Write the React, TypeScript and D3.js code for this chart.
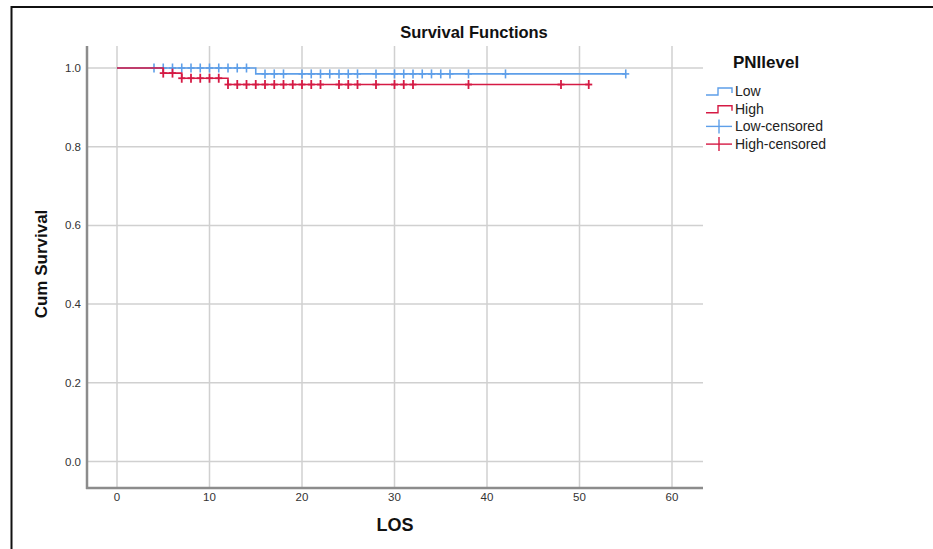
import React from "react";
import * as d3 from "d3";

// step levels (time, survival after the step)
const lowStepTimes = [0, 15];
const lowStepValues = [1.0, 0.985];
const lowEnd = 55;
const highStepTimes = [0, 5, 7, 12];
const highStepValues = [1.0, 0.987, 0.974, 0.958];
const highEnd = 51;

// censored cases (LOS)
const lowCensored = [4, 5, 6, 7, 8, 9, 10, 11, 12, 13, 14, 16, 17, 18, 20, 21, 22, 23, 24, 25, 26, 28, 30, 31, 32, 33, 34, 35, 36, 38, 42, 55];
const highCensored = [5, 6, 7, 8, 9, 10, 11, 12, 13, 14, 15, 16, 17, 18, 19, 20, 21, 22, 24, 25, 26, 28, 30, 31, 32, 38, 48, 51];

const xTicks = [0, 10, 20, 30, 40, 50, 60];
const yTicks = [0, 0.2, 0.4, 0.6, 0.8, 1.0];

const legendLabels = ["Low", "High", "Low-censored", "High-censored"];

export default class App extends React.Component {
    myRef = React.createRef<SVGSVGElement>();

    drawModel = () => {
        const colors = ["#5e9fe9", "#d51a44"];
        const font = "'Liberation Sans', Arial, sans-serif";

        const width = 933;
        const height = 549;
        const plot = { left: 87, right: 703, top: 46, bottom: 488 };

        const svg = d3.select(this.myRef.current);
        svg.selectAll("*").remove();
        svg.attr("width", width).attr("height", height);

        svg.append("rect").attr("width", width).attr("height", height).attr("fill", "#fff");

        // frame (top + left only)
        svg.append("line").attr("x1", 11).attr("x2", width).attr("y1", 7).attr("y2", 7)
            .attr("stroke", "#111").attr("stroke-width", 2);
        svg.append("line").attr("x1", 11.5).attr("x2", 11.5).attr("y1", 6).attr("y2", height)
            .attr("stroke", "#111").attr("stroke-width", 2);

        const x = d3.scaleLinear().domain([0, 60]).range([117, 672]);
        const y = d3.scaleLinear().domain([0, 1]).range([461.5, 68]);

        // grid
        svg.append("g").selectAll("line").data(xTicks).join("line")
            .attr("x1", d => x(d)).attr("x2", d => x(d))
            .attr("y1", plot.top).attr("y2", plot.bottom)
            .attr("stroke", "#d0d0d0").attr("stroke-width", 1.5);
        svg.append("g").selectAll("line").data(yTicks).join("line")
            .attr("x1", plot.left).attr("x2", plot.right)
            .attr("y1", d => y(d)).attr("y2", d => y(d))
            .attr("stroke", "#d0d0d0").attr("stroke-width", 1.5);

        // axes lines
        svg.append("line").attr("x1", plot.left).attr("x2", plot.left)
            .attr("y1", plot.top).attr("y2", plot.bottom + 1)
            .attr("stroke", "#8c8c8c").attr("stroke-width", 2.5);
        svg.append("line").attr("x1", plot.left - 1).attr("x2", plot.right)
            .attr("y1", plot.bottom).attr("y2", plot.bottom)
            .attr("stroke", "#8c8c8c").attr("stroke-width", 2.5);

        // tick labels
        svg.append("g").selectAll("text").data(xTicks).join("text")
            .attr("x", d => x(d)).attr("y", 501)
            .attr("text-anchor", "middle")
            .attr("font-family", font).attr("font-size", 11.5).attr("fill", "#333")
            .text(d => d);
        svg.append("g").selectAll("text").data(yTicks).join("text")
            .attr("x", 81).attr("y", d => y(d) + 4)
            .attr("text-anchor", "end")
            .attr("font-family", font).attr("font-size", 11.5).attr("fill", "#333")
            .text(d => d3.format(".1f")(d));

        // titles
        svg.append("text").attr("x", 474).attr("y", 38).attr("text-anchor", "middle")
            .attr("font-family", font).attr("font-size", 16.5).attr("font-weight", "bold")
            .attr("fill", "#111").text("Survival Functions");
        svg.append("text").attr("x", 395).attr("y", 531).attr("text-anchor", "middle")
            .attr("font-family", font).attr("font-size", 18).attr("font-weight", "bold")
            .attr("fill", "#111").text("LOS");
        svg.append("text").attr("transform", "translate(47,264) rotate(-90)")
            .attr("text-anchor", "middle")
            .attr("font-family", font).attr("font-size", 17).attr("font-weight", "bold")
            .attr("fill", "#111").text("Cum Survival");

        // curves
        const series = [
            { times: lowStepTimes, values: lowStepValues, end: lowEnd, censored: lowCensored },
            { times: highStepTimes, values: highStepValues, end: highEnd, censored: highCensored },
        ];
        const line = d3.line<[number, number]>()
            .x(d => x(d[0])).y(d => y(d[1]))
            .curve(d3.curveStepAfter);

        series.forEach((s, i) => {
            const pts: [number, number][] = s.times.map((t, j) => [t, s.values[j]] as [number, number]);
            pts.push([s.end, s.values[s.values.length - 1]]);
            svg.append("path").datum(pts)
                .attr("fill", "none").attr("stroke", colors[i]).attr("stroke-width", 1.6)
                .attr("d", line);

            const survAt = (t: number) => s.values[d3.bisectRight(s.times, t) - 1];
            const marks = svg.append("g").attr("stroke", colors[i]).attr("stroke-width", i === 1 ? 1.8 : 1.6);
            s.censored.forEach(t => {
                const cx = x(t), cy = y(survAt(t));
                marks.append("line").attr("x1", cx).attr("x2", cx).attr("y1", cy - 4.5).attr("y2", cy + 4.5);
                marks.append("line").attr("x1", cx - 3.5).attr("x2", cx + 3.5).attr("y1", cy).attr("y2", cy);
            });
        });

        // legend
        const legend = svg.append("g").attr("transform", "translate(706,0)");
        legend.append("text").attr("x", 27).attr("y", 68)
            .attr("font-family", font).attr("font-size", 17).attr("font-weight", "bold")
            .attr("fill", "#111").text("PNIlevel");
        legendLabels.forEach((lab, i) => {
            const cy = 91 + i * 17.7;
            const c = colors[i % 2];
            if (i < 2) {
                legend.append("path")
                    .attr("d", `M0,${cy + 4}H12V${cy - 3}H26V${cy + 2}`)
                    .attr("fill", "none").attr("stroke", c).attr("stroke-width", 1.4);
            } else {
                legend.append("line").attr("x1", 0).attr("x2", 26).attr("y1", cy).attr("y2", cy)
                    .attr("stroke", c).attr("stroke-width", 1.4);
                legend.append("line").attr("x1", 13).attr("x2", 13).attr("y1", cy - 7).attr("y2", cy + 7)
                    .attr("stroke", c).attr("stroke-width", 1.4);
            }
            legend.append("text").attr("x", 29).attr("y", cy + 5)
                .attr("font-family", font).attr("font-size", 14).attr("fill", "#222")
                .text(lab);
        });
    }

    componentDidMount() {
        this.drawModel();
    }

    render() {
        return (
            <svg ref={this.myRef} style={{ position: "absolute", left: 0, top: 0, display: "block" }}></svg>
        );
    }
}
